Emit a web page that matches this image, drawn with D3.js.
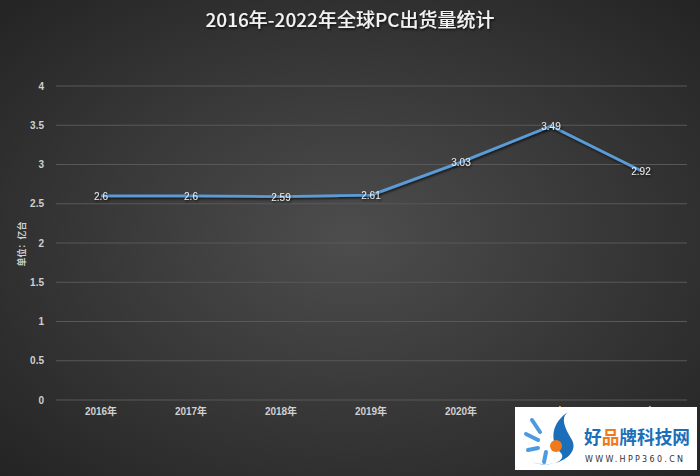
<!DOCTYPE html>
<html><head><meta charset="utf-8">
<script src="https://cdn.jsdelivr.net/npm/d3@7"></script>
<style>body{margin:0;background:#333;}svg{display:block;}</style>
</head><body>
<script>
const categories = ["2016年","2017年","2018年","2019年","2020年","2021年","2022年"];
const values = [2.6, 2.6, 2.59, 2.61, 3.03, 3.49, 2.92];
const yTicks = [0, 0.5, 1, 1.5, 2, 2.5, 3, 3.5, 4];
const labels = ["2.6","2.6","2.59","2.61","3.03","3.49","2.92"];
const title = "2016年-2022年全球PC出货量统计";
const yTitle = "单位：亿台";

const W = 700, H = 476;
const svg = d3.select("body").append("svg").attr("width", W).attr("height", H);
const defs = svg.append("defs");
const rg = defs.append("radialGradient").attr("id","bg").attr("cx","50%").attr("cy","50%").attr("r","70%");
rg.append("stop").attr("offset","0%").attr("stop-color","#4d4d4d");
rg.append("stop").attr("offset","100%").attr("stop-color","#242424");
const sh = defs.append("filter").attr("id","sh").attr("x","-20%").attr("y","-50%").attr("width","140%").attr("height","200%");
sh.append("feDropShadow").attr("dx",1).attr("dy",1.5).attr("stdDeviation",1).attr("flood-color","#000").attr("flood-opacity",0.7);

svg.append("rect").attr("width",W).attr("height",H).attr("fill","url(#bg)");

const x = d3.scaleBand().domain(categories).range([56, 686]);
const y = d3.scaleLinear().domain([0,4]).range([400, 86]);

svg.append("text").attr("x",350).attr("y",27).attr("text-anchor","middle")
  .attr("font-family","Noto Sans CJK SC, sans-serif").attr("font-size",19).attr("font-weight","500")
  .attr("fill","#f2f2f2").attr("filter","url(#sh)").text(title);

const g = svg.append("g");
g.selectAll("line.grid").data(yTicks).join("line").attr("class","grid")
  .attr("x1",56).attr("x2",687).attr("y1",d=>y(d)).attr("y2",d=>y(d))
  .attr("stroke","#585858").attr("stroke-width",1);

const yAxis = d3.axisLeft(y).tickValues(yTicks).tickSize(0).tickPadding(8).tickFormat(d3.format("~g"));
const ya = svg.append("g").attr("transform","translate(56,0)").call(yAxis);
ya.select(".domain").remove();
ya.selectAll("text").attr("font-family","Liberation Sans, Arial, sans-serif").attr("font-size",10).attr("font-weight","bold").attr("fill","#d0d0d0").attr("dx","-4");

const xAxis = d3.axisBottom(x).tickSize(0).tickPadding(8);
const xa = svg.append("g").attr("transform","translate(0,400)").call(xAxis);
xa.select(".domain").remove();
xa.selectAll("text").attr("font-family","Liberation Sans, Noto Sans CJK SC, sans-serif").attr("font-size",10).attr("font-weight","bold").attr("fill","#d0d0d0");

svg.append("text").attr("transform","translate(25,244) rotate(-90)").attr("text-anchor","middle")
  .attr("font-family","Noto Sans CJK SC, sans-serif").attr("font-size",9).attr("font-weight","bold").attr("fill","#d0d0d0").text(yTitle);

const line = d3.line().x((d,i)=>x(categories[i])+x.bandwidth()/2).y(d=>y(d));
svg.append("path").datum(values).attr("d",line).attr("fill","none")
  .attr("stroke","#5b9bd5").attr("stroke-width",2.75).attr("stroke-linejoin","round").attr("filter","url(#sh)");

svg.selectAll("text.dl").data(values).join("text").attr("class","dl")
  .attr("x",(d,i)=>x(categories[i])+x.bandwidth()/2).attr("y",d=>y(d)+4)
  .attr("text-anchor","middle").attr("font-family","Liberation Sans, Arial, sans-serif").attr("font-size",10)
  .attr("fill","#e8e8e8").attr("filter","url(#sh)").text((d,i)=>labels[i]);

// watermark
const wm = svg.append("g");
wm.append("rect").attr("x",515).attr("y",407).attr("width",182).attr("height",63).attr("fill","#fff");
wm.append("path").attr("d","M568,412 C548,425 552,445 560,452 C570,462 545,468 532,462 C555,470 580,455 572,440 C565,428 560,418 568,412 Z").attr("fill","#1a6fb8");
[[532,420,540,432],[526,434,538,440],[528,450,538,448],[546,452,544,462]].forEach(p=>{
  wm.append("line").attr("x1",p[0]).attr("y1",p[1]).attr("x2",p[2]).attr("y2",p[3]).attr("stroke","#4a9be0").attr("stroke-width",4).attr("stroke-linecap","round");
});
wm.append("circle").attr("cx",556).attr("cy",446).attr("r",6).attr("fill","#f07a1a");
const brand = wm.append("text").attr("x",584).attr("y",444).attr("font-family","Noto Sans CJK SC, sans-serif").attr("font-size",18).attr("font-weight","bold").attr("fill","#1a6fb8")
  .attr("textLength",106).attr("lengthAdjust","spacingAndGlyphs");
brand.append("tspan").text("好");
brand.append("tspan").attr("fill","#f07a1a").text("品");
brand.append("tspan").text("牌科技网");
wm.append("text").attr("x",585).attr("y",462).attr("font-family","DejaVu Sans, sans-serif").attr("font-size",8).attr("fill","#333")
  .attr("textLength",98).attr("lengthAdjust","spacing").text("WWW.HPP360.CN");
</script>
</body></html>
